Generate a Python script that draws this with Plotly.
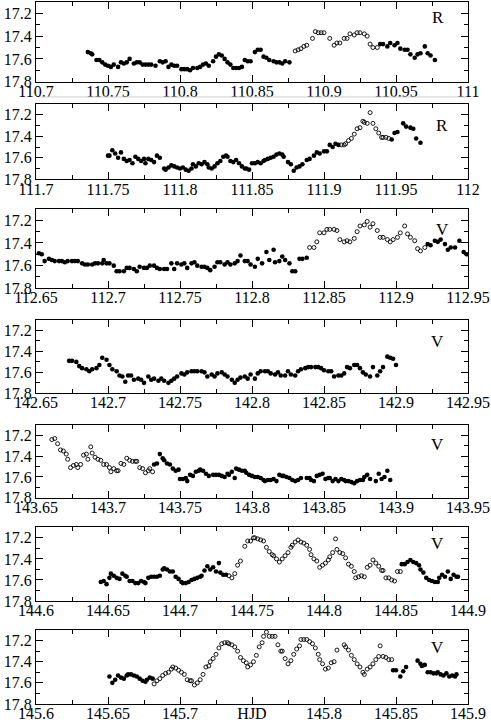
import plotly.graph_objects as go

# ---- light-curve data (HJD offsets as plotted, magnitudes) ----
# panel 1, R band
p1_fill_t = [110.736, 110.738, 110.739, 110.742, 110.744, 110.746, 110.748, 110.750, 110.752, 110.754,
             110.757, 110.759, 110.761, 110.763, 110.765, 110.768, 110.770, 110.772, 110.774, 110.776,
             110.778, 110.780, 110.783, 110.786, 110.788, 110.790, 110.792, 110.794, 110.796, 110.798,
             110.801, 110.803, 110.805, 110.807, 110.809, 110.812, 110.814, 110.816, 110.818, 110.820,
             110.823, 110.825, 110.827, 110.829, 110.831, 110.833, 110.835, 110.837, 110.839, 110.841,
             110.843, 110.845, 110.847, 110.849, 110.852, 110.854, 110.856, 110.858, 110.860, 110.862,
             110.865, 110.867, 110.869, 110.871, 110.873, 110.876,
             110.939, 110.941, 110.944, 110.946, 110.949, 110.951, 110.953, 110.956, 110.958, 110.960,
             110.963, 110.965, 110.967, 110.970, 110.972, 110.974, 110.977]
p1_fill_m = [17.54, 17.55, 17.56, 17.61, 17.61, 17.63, 17.65, 17.66, 17.67, 17.65,
             17.67, 17.63, 17.64, 17.63, 17.60, 17.64, 17.63, 17.63, 17.65, 17.65,
             17.65, 17.65, 17.66, 17.62, 17.63, 17.62, 17.67, 17.65, 17.66, 17.66,
             17.69, 17.69, 17.69, 17.70, 17.68, 17.68, 17.67, 17.65, 17.64, 17.66,
             17.62, 17.58, 17.56, 17.57, 17.60, 17.63, 17.65, 17.68, 17.68, 17.68,
             17.67, 17.61, 17.62, 17.62, 17.54, 17.52, 17.52, 17.58, 17.59, 17.61,
             17.62, 17.63, 17.63, 17.64, 17.62, 17.63,
             17.47, 17.47, 17.49, 17.46, 17.48, 17.46, 17.51, 17.52, 17.52, 17.56,
             17.59, 17.56, 17.55, 17.49, 17.55, 17.57, 17.61]
p1_open_t = [110.880, 110.882, 110.884, 110.886, 110.888, 110.892, 110.894, 110.896, 110.898, 110.900,
             110.904, 110.907, 110.909, 110.911, 110.914, 110.916, 110.918, 110.921, 110.923, 110.925,
             110.928, 110.930, 110.932, 110.934, 110.937]
p1_open_m = [17.53, 17.52, 17.51, 17.49, 17.48, 17.42, 17.36, 17.37, 17.37, 17.37,
             17.42, 17.48, 17.46, 17.46, 17.42, 17.42, 17.38, 17.39, 17.37, 17.37,
             17.38, 17.40, 17.47, 17.50, 17.50]

# panel 2, R band
p2_fill_t = [111.750, 111.751, 111.753, 111.755, 111.757, 111.759, 111.761, 111.763, 111.765, 111.767,
             111.769, 111.771, 111.773, 111.775, 111.776, 111.778, 111.780, 111.782, 111.784, 111.786,
             111.789, 111.790, 111.792, 111.794, 111.796, 111.798, 111.800, 111.802, 111.804, 111.806,
             111.808, 111.809, 111.811, 111.813, 111.815, 111.817, 111.819, 111.820, 111.822, 111.824,
             111.826, 111.828, 111.830, 111.832, 111.833, 111.835, 111.837, 111.839, 111.841, 111.843,
             111.845, 111.846, 111.848, 111.850, 111.852, 111.854, 111.856, 111.858, 111.859, 111.861,
             111.863, 111.865, 111.867, 111.869, 111.871, 111.872, 111.875, 111.877, 111.879, 111.881,
             111.883, 111.885, 111.888, 111.890, 111.893, 111.895, 111.897, 111.900, 111.902, 111.904,
             111.906, 111.908, 111.910,
             111.947, 111.949, 111.951, 111.955, 111.957, 111.960, 111.962, 111.964, 111.967]
p2_fill_m = [17.58, 17.58, 17.53, 17.56, 17.60, 17.55, 17.61, 17.63, 17.62, 17.65,
             17.59, 17.61, 17.63, 17.61, 17.65, 17.61, 17.62, 17.64, 17.58, 17.60,
             17.70, 17.71, 17.69, 17.67, 17.68, 17.69, 17.70, 17.69, 17.71, 17.72,
             17.70, 17.66, 17.68, 17.65, 17.66, 17.64, 17.66, 17.69, 17.70, 17.68,
             17.65, 17.63, 17.59, 17.58, 17.59, 17.63, 17.64, 17.62, 17.65, 17.68,
             17.70, 17.70, 17.71, 17.65, 17.65, 17.64, 17.65, 17.63, 17.62, 17.61,
             17.60, 17.59, 17.57, 17.56, 17.57, 17.59, 17.64, 17.66, 17.72, 17.69,
             17.68, 17.66, 17.62, 17.61, 17.58, 17.55, 17.56, 17.54, 17.54, 17.48,
             17.50, 17.47, 17.48,
             17.43, 17.37, 17.36, 17.28, 17.31, 17.32, 17.33, 17.42, 17.46]
p2_open_t = [111.912, 111.914, 111.915, 111.917, 111.919, 111.921, 111.923, 111.925, 111.927, 111.928,
             111.930, 111.932, 111.934, 111.936, 111.938, 111.940, 111.941, 111.943, 111.945]
p2_open_m = [17.48, 17.48, 17.47, 17.44, 17.42, 17.38, 17.33, 17.32, 17.26, 17.27,
             17.28, 17.18, 17.28, 17.33, 17.37, 17.41, 17.41, 17.41, 17.42]

# panel 3, V band
p3_fill_t = [112.652, 112.654, 112.656, 112.659, 112.661, 112.663, 112.666, 112.668, 112.670, 112.672,
             112.675, 112.677, 112.679, 112.682, 112.684, 112.686, 112.689, 112.691, 112.693, 112.696,
             112.697, 112.699, 112.701, 112.704, 112.706, 112.708, 112.711, 112.713, 112.715, 112.718,
             112.720, 112.722, 112.725, 112.727, 112.729, 112.732, 112.734, 112.736, 112.739, 112.741,
             112.744, 112.746, 112.748, 112.751, 112.753, 112.755, 112.758, 112.760, 112.762, 112.765,
             112.767, 112.769, 112.771, 112.774, 112.776, 112.778, 112.781, 112.783, 112.785, 112.788,
             112.790, 112.792, 112.795, 112.797, 112.799, 112.802, 112.804, 112.807, 112.810, 112.812,
             112.815, 112.816, 112.819, 112.821, 112.823, 112.826, 112.828, 112.830, 112.833, 112.835,
             112.838,
             112.922, 112.924, 112.927, 112.929, 112.931, 112.934, 112.936, 112.938, 112.941, 112.944,
             112.947, 112.949]
p3_fill_m = [17.49, 17.50, 17.56, 17.54, 17.55, 17.56, 17.56, 17.56, 17.57, 17.56,
             17.56, 17.56, 17.56, 17.58, 17.59, 17.59, 17.59, 17.58, 17.58, 17.58,
             17.55, 17.58, 17.58, 17.60, 17.65, 17.65, 17.65, 17.62, 17.62, 17.63,
             17.65, 17.61, 17.62, 17.62, 17.60, 17.60, 17.62, 17.63, 17.63, 17.63,
             17.58, 17.63, 17.58, 17.59, 17.58, 17.62, 17.58, 17.57, 17.60, 17.61,
             17.61, 17.62, 17.64, 17.61, 17.57, 17.57, 17.59, 17.57, 17.59, 17.58,
             17.56, 17.51, 17.56, 17.56, 17.59, 17.61, 17.54, 17.58, 17.48, 17.55,
             17.46, 17.57, 17.56, 17.52, 17.55, 17.58, 17.65, 17.65, 17.54, 17.54,
             17.53,
             17.41, 17.42, 17.38, 17.39, 17.37, 17.41, 17.46, 17.44, 17.44, 17.38,
             17.48, 17.50]
p3_open_t = [112.840, 112.843, 112.845, 112.847, 112.850, 112.852, 112.854, 112.857, 112.859, 112.861,
             112.864, 112.866, 112.868, 112.871, 112.873, 112.875, 112.878, 112.880, 112.882, 112.884,
             112.887, 112.889, 112.891, 112.894, 112.896, 112.898, 112.901, 112.903, 112.906, 112.908,
             112.910, 112.913, 112.915, 112.917, 112.920]
p3_open_m = [17.44, 17.44, 17.39, 17.31, 17.31, 17.28, 17.28, 17.28, 17.29, 17.37,
             17.39, 17.38, 17.39, 17.36, 17.30, 17.25, 17.24, 17.21, 17.26, 17.23,
             17.29, 17.35, 17.35, 17.37, 17.39, 17.37, 17.35, 17.31, 17.25, 17.32,
             17.35, 17.38, 17.45, 17.47, 17.44]

# panel 4, V band
p4_fill_t = [142.673, 142.675, 142.678, 142.680, 142.682, 142.685, 142.687, 142.689, 142.692, 142.694,
             142.696, 142.699, 142.701, 142.703, 142.706, 142.708, 142.710, 142.712, 142.714, 142.716,
             142.718, 142.721, 142.723, 142.725, 142.728, 142.730, 142.732, 142.735, 142.737, 142.739,
             142.742, 142.744, 142.746, 142.748, 142.751, 142.753, 142.755, 142.758, 142.760, 142.762,
             142.765, 142.767, 142.769, 142.772, 142.774, 142.776, 142.779, 142.781, 142.783, 142.786,
             142.788, 142.790, 142.792, 142.795, 142.797, 142.799, 142.802, 142.804, 142.806, 142.809,
             142.811, 142.813, 142.816, 142.818, 142.820, 142.823, 142.825, 142.827, 142.830, 142.832,
             142.834, 142.837, 142.839, 142.841, 142.844, 142.846, 142.848, 142.850, 142.853, 142.855,
             142.857, 142.860, 142.862, 142.864, 142.866, 142.868, 142.871, 142.873, 142.875, 142.877,
             142.879, 142.882, 142.884, 142.887, 142.889, 142.891, 142.894, 142.896, 142.898, 142.900]
p4_fill_m = [17.49, 17.49, 17.50, 17.54, 17.56, 17.57, 17.59, 17.57, 17.56, 17.53,
             17.46, 17.48, 17.53, 17.57, 17.59, 17.63, 17.64, 17.69, 17.63, 17.63,
             17.67, 17.66, 17.67, 17.70, 17.64, 17.67, 17.66, 17.68, 17.66, 17.68,
             17.70, 17.68, 17.66, 17.64, 17.61, 17.62, 17.60, 17.59, 17.59, 17.59,
             17.59, 17.60, 17.64, 17.62, 17.64, 17.61, 17.60, 17.62, 17.64, 17.67,
             17.70, 17.67, 17.65, 17.64, 17.66, 17.62, 17.66, 17.61, 17.59, 17.59,
             17.59, 17.61, 17.62, 17.60, 17.63, 17.63, 17.59, 17.62, 17.63, 17.59,
             17.57, 17.56, 17.55, 17.55, 17.55, 17.55, 17.56, 17.58, 17.59, 17.59,
             17.64, 17.63, 17.63, 17.61, 17.55, 17.56, 17.53, 17.53, 17.56, 17.60,
             17.62, 17.64, 17.55, 17.63, 17.59, 17.55, 17.45, 17.46, 17.47, 17.53]
p4_open_t = []
p4_open_m = []

# panel 5, V band
p5_fill_t = [143.732, 143.734, 143.736, 143.738, 143.739, 143.741, 143.743, 143.745, 143.747, 143.749,
             143.750, 143.752, 143.754, 143.755, 143.757, 143.759, 143.761, 143.763, 143.764, 143.766,
             143.768, 143.770, 143.773, 143.775, 143.777, 143.779, 143.781, 143.783, 143.784, 143.786,
             143.788, 143.789, 143.791, 143.793, 143.795, 143.796, 143.798, 143.800, 143.802, 143.804,
             143.806, 143.808, 143.809, 143.811, 143.813, 143.815, 143.817, 143.819, 143.821, 143.822,
             143.824, 143.826, 143.828, 143.830, 143.832, 143.834, 143.838, 143.840, 143.841, 143.843,
             143.845, 143.847, 143.849, 143.851, 143.853, 143.854, 143.856, 143.858, 143.860, 143.862,
             143.864, 143.865, 143.867, 143.869, 143.871, 143.873, 143.875, 143.877, 143.878, 143.880,
             143.882, 143.886, 143.888, 143.890, 143.892, 143.894, 143.896]
p5_fill_m = [17.48, 17.47, 17.38, 17.42, 17.44, 17.47, 17.48, 17.52, 17.54, 17.53,
             17.62, 17.62, 17.61, 17.64, 17.58, 17.59, 17.55, 17.54, 17.53, 17.54,
             17.57, 17.59, 17.58, 17.58, 17.58, 17.59, 17.60, 17.57, 17.58, 17.55,
             17.61, 17.52, 17.53, 17.54, 17.54, 17.56, 17.58, 17.59, 17.60, 17.60,
             17.61, 17.63, 17.64, 17.63, 17.63, 17.62, 17.64, 17.58, 17.59, 17.59,
             17.60, 17.61, 17.63, 17.64, 17.63, 17.61, 17.61, 17.61, 17.63, 17.64,
             17.59, 17.58, 17.57, 17.62, 17.61, 17.61, 17.64, 17.62, 17.64, 17.62,
             17.63, 17.64, 17.64, 17.65, 17.66, 17.64, 17.63, 17.63, 17.60, 17.58,
             17.62, 17.64, 17.57, 17.62, 17.60, 17.54, 17.63]
p5_open_t = [143.661, 143.663, 143.665, 143.667, 143.669, 143.671, 143.672, 143.674, 143.676, 143.678,
             143.679, 143.681, 143.683, 143.685, 143.686, 143.688, 143.689, 143.691, 143.693, 143.695,
             143.697, 143.699, 143.701, 143.702, 143.704, 143.706, 143.707, 143.709, 143.711, 143.713,
             143.715, 143.717, 143.719, 143.720, 143.722, 143.724, 143.726, 143.728, 143.729, 143.731]
p5_open_m = [17.24, 17.23, 17.28, 17.34, 17.35, 17.38, 17.43, 17.51, 17.49, 17.48,
             17.51, 17.48, 17.39, 17.38, 17.43, 17.31, 17.37, 17.41, 17.43, 17.44,
             17.48, 17.48, 17.51, 17.55, 17.52, 17.54, 17.54, 17.47, 17.48, 17.42,
             17.44, 17.45, 17.45, 17.45, 17.51, 17.52, 17.56, 17.54, 17.52, 17.55]

# panel 6, V band
p6_fill_t = [144.645, 144.647, 144.649, 144.651, 144.652, 144.654, 144.656, 144.658, 144.660, 144.662,
             144.663, 144.665, 144.667, 144.669, 144.671, 144.673, 144.675, 144.676, 144.678, 144.680,
             144.682, 144.684, 144.686, 144.688, 144.689, 144.691, 144.693, 144.695, 144.697, 144.699,
             144.701, 144.702, 144.704, 144.706, 144.708, 144.710, 144.712, 144.714, 144.715, 144.717,
             144.719, 144.721, 144.723, 144.725, 144.727, 144.728, 144.730, 144.732,
             144.854, 144.856, 144.858, 144.860, 144.862, 144.864, 144.866, 144.867, 144.869, 144.871,
             144.873, 144.875, 144.877, 144.879, 144.880, 144.882, 144.884, 144.886, 144.888, 144.890,
             144.892, 144.893]
p6_fill_m = [17.62, 17.61, 17.64, 17.58, 17.54, 17.56, 17.58, 17.59, 17.54, 17.56,
             17.57, 17.61, 17.61, 17.63, 17.63, 17.61, 17.62, 17.63, 17.58, 17.57,
             17.57, 17.57, 17.56, 17.50, 17.49, 17.50, 17.52, 17.52, 17.57, 17.59,
             17.62, 17.63, 17.63, 17.62, 17.60, 17.59, 17.58, 17.57, 17.56, 17.51,
             17.47, 17.50, 17.48, 17.52, 17.44, 17.53, 17.55, 17.55,
             17.45, 17.45, 17.43, 17.41, 17.43, 17.44, 17.46, 17.50, 17.53, 17.58,
             17.60, 17.61, 17.62, 17.62, 17.58, 17.55, 17.57, 17.52, 17.59, 17.55,
             17.57, 17.57]
p6_open_t = [144.734, 144.736, 144.738, 144.740, 144.742, 144.745, 144.747, 144.749, 144.751, 144.752,
             144.754, 144.756, 144.758, 144.760, 144.762, 144.764, 144.765, 144.767, 144.769, 144.771,
             144.773, 144.775, 144.777, 144.778, 144.780, 144.782, 144.784, 144.786, 144.788, 144.790,
             144.791, 144.793, 144.795, 144.797, 144.799, 144.801, 144.803, 144.804, 144.806, 144.808,
             144.809, 144.811, 144.813, 144.815, 144.817, 144.819, 144.821, 144.822, 144.824, 144.826,
             144.828, 144.830, 144.832, 144.834, 144.836, 144.838, 144.840, 144.841, 144.843, 144.845,
             144.847, 144.849, 144.851, 144.853]
p6_open_m = [17.56, 17.58, 17.54, 17.46, 17.42, 17.28, 17.23, 17.23, 17.20, 17.20,
             17.21, 17.22, 17.23, 17.29, 17.33, 17.36, 17.37, 17.40, 17.43, 17.40,
             17.37, 17.34, 17.29, 17.27, 17.24, 17.22, 17.24, 17.25, 17.27, 17.31,
             17.36, 17.40, 17.42, 17.48, 17.46, 17.44, 17.41, 17.38, 17.34, 17.21,
             17.31, 17.34, 17.35, 17.39, 17.45, 17.47, 17.52, 17.58, 17.57, 17.56,
             17.57, 17.48, 17.46, 17.41, 17.44, 17.47, 17.51, 17.51, 17.58, 17.58,
             17.60, 17.61, 17.52, 17.52]

# panel 7, V band
p7_fill_t = [145.651, 145.653, 145.655, 145.657, 145.659, 145.661, 145.663, 145.664, 145.666, 145.668,
             145.670, 145.672, 145.674, 145.676, 145.677, 145.679, 145.681,
             145.848, 145.850, 145.853, 145.855, 145.857, 145.865, 145.867, 145.868, 145.870, 145.872,
             145.874, 145.876, 145.878, 145.879, 145.881, 145.883, 145.885, 145.887, 145.889, 145.891,
             145.892]
p7_fill_m = [17.54, 17.60, 17.57, 17.53, 17.55, 17.56, 17.53, 17.52, 17.52, 17.53,
             17.54, 17.56, 17.58, 17.59, 17.57, 17.55, 17.56,
             17.48, 17.48, 17.54, 17.49, 17.45, 17.39, 17.42, 17.44, 17.43, 17.50,
             17.50, 17.51, 17.51, 17.50, 17.52, 17.53, 17.51, 17.54, 17.53, 17.54,
             17.52]
p7_open_t = [145.682, 145.684, 145.686, 145.688, 145.690, 145.692, 145.694, 145.695, 145.697, 145.699,
             145.701, 145.703, 145.705, 145.707, 145.708, 145.710, 145.712, 145.714, 145.716, 145.718,
             145.720, 145.721, 145.723, 145.725, 145.727, 145.729, 145.731, 145.733, 145.734, 145.736,
             145.738, 145.740, 145.742, 145.744, 145.746, 145.747, 145.749, 145.751, 145.753, 145.755,
             145.757, 145.758, 145.760, 145.762, 145.764, 145.766, 145.768, 145.770, 145.771, 145.773,
             145.775, 145.777, 145.779, 145.781, 145.783, 145.784, 145.786, 145.788, 145.790, 145.792,
             145.794, 145.796, 145.797, 145.799, 145.801, 145.803, 145.805, 145.807, 145.809, 145.814,
             145.815, 145.817, 145.819, 145.821, 145.823, 145.825, 145.827, 145.828, 145.830, 145.832,
             145.834, 145.836, 145.838, 145.839, 145.841, 145.843, 145.845, 145.847]
p7_open_m = [17.61, 17.58, 17.56, 17.53, 17.51, 17.50, 17.47, 17.45, 17.46, 17.48,
             17.50, 17.52, 17.57, 17.58, 17.58, 17.62, 17.60, 17.57, 17.52, 17.45,
             17.44, 17.40, 17.37, 17.33, 17.27, 17.23, 17.22, 17.22, 17.23, 17.24,
             17.26, 17.30, 17.36, 17.39, 17.41, 17.45, 17.43, 17.40, 17.34, 17.26,
             17.22, 17.16, 17.12, 17.16, 17.16, 17.16, 17.24, 17.30, 17.30, 17.37,
             17.42, 17.39, 17.33, 17.28, 17.25, 17.19, 17.19, 17.19, 17.21, 17.23,
             17.27, 17.33, 17.38, 17.42, 17.47, 17.46, 17.41, 17.40, 17.29, 17.24,
             17.26, 17.29, 17.34, 17.38, 17.42, 17.45, 17.50, 17.52, 17.47, 17.45,
             17.42, 17.38, 17.35, 17.25, 17.35, 17.36, 17.38, 17.38]

bands = ["R", "R", "V", "V", "V", "V", "V"]
x_ranges = [[110.7, 111.0], [111.7, 112.0], [112.65, 112.95], [142.65, 142.95],
            [143.65, 143.95], [144.6, 144.9], [145.6, 145.9]]
x_tick_text = [
    ["110.7", "110.75", "110.8", "110.85", "110.9", "110.95", "111"],
    ["111.7", "111.75", "111.8", "111.85", "111.9", "111.95", "112"],
    ["112.65", "112.7", "112.75", "112.8", "112.85", "112.9", "112.95"],
    ["142.65", "142.7", "142.75", "142.8", "142.85", "142.9", "142.95"],
    ["143.65", "143.7", "143.75", "143.8", "143.85", "143.9", "143.95"],
    ["144.6", "144.65", "144.7", "144.75", "144.8", "144.85", "144.9"],
    ["145.6", "145.65", "145.7", "HJD", "145.8", "145.85", "145.9"],
]
y_ticks = [17.2, 17.4, 17.6, 17.8]
y_tick_text = ["17.2", "17.4", "17.6", "17.8"]

panels = [
    (p1_fill_t, p1_fill_m, p1_open_t, p1_open_m),
    (p2_fill_t, p2_fill_m, p2_open_t, p2_open_m),
    (p3_fill_t, p3_fill_m, p3_open_t, p3_open_m),
    (p4_fill_t, p4_fill_m, p4_open_t, p4_open_m),
    (p5_fill_t, p5_fill_m, p5_open_t, p5_open_m),
    (p6_fill_t, p6_fill_m, p6_open_t, p6_open_m),
    (p7_fill_t, p7_fill_m, p7_open_t, p7_open_m),
]

# layout geometry
W, H = 491, 724
y_domains = [[0.8865, 1.0], [0.7474, 0.8547], [0.5922, 0.7051], [0.4426, 0.5470],
             [0.2939, 0.3974], [0.1467, 0.2517], [0.0, 0.1054]]
label_pos = [(0.93, 0.80), (0.94, 0.71), (0.94, 0.74), (0.93, 0.71),
             (0.93, 0.73), (0.93, 0.78), (0.93, 0.77)]

FONT = "Liberation Serif"
fig = go.Figure()
layout = dict(width=W, height=H, margin=dict(l=36, r=23, t=2, b=20),
              template="none", plot_bgcolor="white", paper_bgcolor="white", showlegend=False,
              font=dict(family=FONT, size=17, color="black"))
annotations = []

for i, (ft, fm, ot, om) in enumerate(panels):
    n = i + 1
    xa = "x" if n == 1 else f"x{n}"
    ya = "y" if n == 1 else f"y{n}"
    fig.add_trace(go.Scatter(x=ft, y=fm, mode="markers", xaxis=xa, yaxis=ya,
                             marker=dict(symbol="circle", size=4.6, color="black",
                                         line=dict(width=0))))
    if ot:
        fig.add_trace(go.Scatter(x=ot, y=om, mode="markers", xaxis=xa, yaxis=ya,
                                 marker=dict(symbol="circle-open", size=4, color="black",
                                             line=dict(width=0.9, color="black"))))
    x0, x1 = x_ranges[i]
    xticks = [round(x0 + 0.05 * k, 3) for k in range(7)]
    common = dict(ticks="inside", tickwidth=1, tickcolor="black", showline=True,
                  linecolor="black", linewidth=1, mirror="allticks", showgrid=False,
                  zeroline=False, automargin=False, ticklabeloverflow="allow",
                  tickfont=dict(family=FONT, size=16, color="black"))
    layout["xaxis" if n == 1 else f"xaxis{n}"] = dict(
        domain=[0, 1], range=[x0, x1], anchor=ya, tickmode="array",
        tickvals=xticks, ticktext=x_tick_text[i], ticklen=7, ticklabelstandoff=-5,
        minor=dict(ticks="inside", ticklen=4, tickcolor="black", tickmode="linear",
                   tick0=x0, dtick=0.025, showgrid=False),
        **common)
    layout["yaxis" if n == 1 else f"yaxis{n}"] = dict(
        domain=y_domains[i], range=[17.8, 17.1], anchor=xa, tickmode="array",
        tickvals=y_ticks, ticktext=y_tick_text, ticklen=7,
        minor=dict(ticks="inside", ticklen=4, tickcolor="black", tickmode="linear",
                   tick0=17.1, dtick=0.1, showgrid=False),
        **common)
    lx, ly = label_pos[i]
    annotations.append(dict(text=bands[i], xref=f"{xa} domain", yref=f"{ya} domain",
                            x=lx, y=ly, xanchor="center", yanchor="middle", showarrow=False,
                            font=dict(family=FONT, size=17, color="black")))

layout["annotations"] = annotations
layout["shapes"] = [dict(type="line", xref="paper", yref="paper", x0=0.01, x1=0.998,
                         y0=0.8647, y1=0.8647, line=dict(color="#cfcfcf", width=1))]
fig.update_layout(**layout)
# page body margin would shift the 491x724 figure; remove it
fig.write_html("out.html", config={"displayModeBar": False},
               post_script="document.body.style.margin='0px';")
